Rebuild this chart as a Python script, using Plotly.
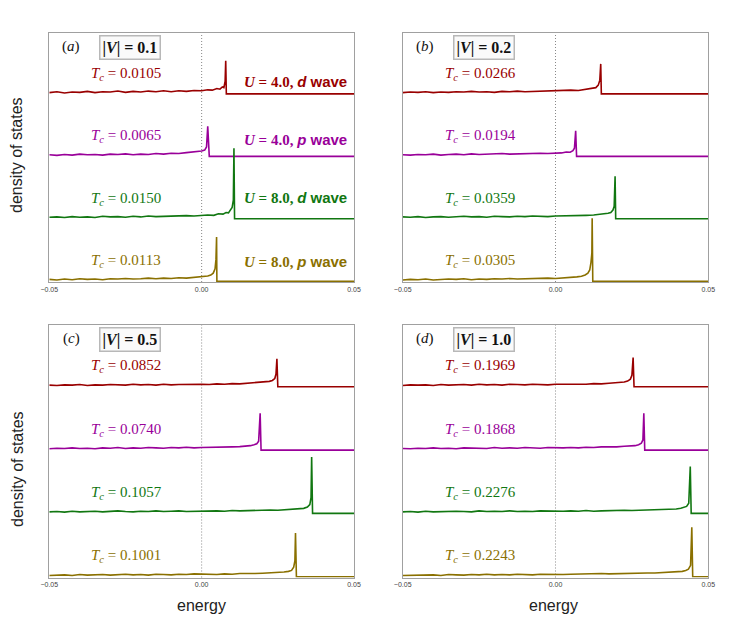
import plotly.graph_objects as go

# colours of the four curves (top to bottom)
COLORS = ["#990000", "#990099", "#117711", "#8a7000"]
OFFSETS = [3, 2, 1, 0]

# energies of the flat part, shared by every curve
E_FLAT = [-0.05, -0.0475, -0.045, -0.0425, -0.04, -0.0375, -0.035, -0.0325, -0.03, -0.0275, -0.025,
          -0.0225, -0.02, -0.0175, -0.015, -0.0125, -0.01, -0.0075, -0.005, -0.0025, 0.0]

# ---- panel (a), |V| = 0.1 ----
a_red_e = E_FLAT + [0.002, 0.0035, 0.005, 0.006, 0.0068, 0.0073, 0.0077, 0.0079, 0.0081, 0.05]
a_red_d = [0.02, 0.035, 0.015, 0.03, 0.025, 0.04, 0.02, 0.035, 0.03, 0.045, 0.025, 0.04, 0.03, 0.045, 0.035, 0.05, 0.035, 0.05, 0.04, 0.055, 0.05,
           0.065, 0.06, 0.085, 0.075, 0.11, 0.1, 0.2, 0.53, 0.0, 0.0]
a_pur_e = E_FLAT + [0.001, 0.0016, 0.002, 0.0023, 0.0025, 0.05]
a_pur_d = [0.025, 0.015, 0.03, 0.02, 0.035, 0.025, 0.03, 0.02, 0.035, 0.03, 0.04, 0.025, 0.035, 0.03, 0.045, 0.035, 0.05, 0.045, 0.06, 0.07, 0.085,
           0.1, 0.15, 0.48, 0.15, 0.0, 0.0]
a_grn_e = E_FLAT + [0.002, 0.004, 0.0055, 0.007, 0.008, 0.0088, 0.0095, 0.01, 0.0104, 0.0106, 0.0108, 0.05]
a_grn_d = [0.025, 0.03, 0.02, 0.035, 0.025, 0.03, 0.02, 0.04, 0.03, 0.035, 0.025, 0.04, 0.03, 0.045, 0.035, 0.04, 0.045, 0.04, 0.05, 0.045, 0.055,
           0.06, 0.055, 0.08, 0.075, 0.1, 0.095, 0.14, 0.18, 0.3, 1.13, 0.0, 0.0]
a_gld_e = E_FLAT + [0.001, 0.002, 0.003, 0.0038, 0.0044, 0.0047, 0.0049, 0.0050, 0.05]
a_gld_d = [0.03, 0.02, 0.035, 0.025, 0.04, 0.03, 0.035, 0.025, 0.04, 0.035, 0.045, 0.035, 0.04, 0.05, 0.04, 0.05, 0.045, 0.055, 0.05, 0.06, 0.065,
           0.075, 0.085, 0.1, 0.13, 0.2, 0.35, 0.71, 0.0, 0.0]
a_tc = ["0.0105", "0.0065", "0.0150", "0.0113"]

# ---- panel (b), |V| = 0.2 ----
b_red_e = E_FLAT + [0.0025, 0.005, 0.0075, 0.0095, 0.011, 0.0122, 0.0132, 0.014, 0.0145, 0.0148, 0.0150, 0.05]
b_red_d = [0.02, 0.03, 0.025, 0.035, 0.02, 0.03, 0.025, 0.035, 0.03, 0.04, 0.03, 0.035, 0.025, 0.04, 0.035, 0.045, 0.035, 0.04, 0.045, 0.04, 0.05,
           0.05, 0.06, 0.055, 0.07, 0.075, 0.09, 0.1, 0.14, 0.22, 0.48, 0.0, 0.0]
b_pur_e = E_FLAT + [0.002, 0.0035, 0.0048, 0.0057, 0.0062, 0.0066, 0.0069, 0.05]
b_pur_d = [0.025, 0.02, 0.03, 0.025, 0.035, 0.02, 0.03, 0.035, 0.025, 0.04, 0.03, 0.035, 0.03, 0.045, 0.035, 0.04, 0.045, 0.04, 0.05, 0.045, 0.05,
           0.055, 0.07, 0.065, 0.09, 0.13, 0.41, 0.0, 0.0]
b_grn_e = E_FLAT + [0.0025, 0.005, 0.0075, 0.01, 0.0125, 0.0145, 0.016, 0.0172, 0.0181, 0.0188, 0.0192, 0.0195, 0.0197, 0.05]
b_grn_d = [0.03, 0.025, 0.035, 0.02, 0.03, 0.035, 0.025, 0.03, 0.04, 0.03, 0.035, 0.025, 0.04, 0.035, 0.03, 0.04, 0.035, 0.045, 0.04, 0.035, 0.045,
           0.045, 0.05, 0.045, 0.055, 0.06, 0.07, 0.075, 0.09, 0.1, 0.14, 0.2, 0.68, 0.0, 0.0]
b_gld_e = E_FLAT + [0.0025, 0.005, 0.007, 0.0085, 0.0097, 0.0106, 0.0112, 0.0116, 0.0119, 0.0120, 0.0122, 0.05]
b_gld_d = [0.02, 0.03, 0.025, 0.035, 0.02, 0.03, 0.035, 0.03, 0.04, 0.025, 0.035, 0.03, 0.04, 0.035, 0.045, 0.035, 0.04, 0.045, 0.04, 0.05, 0.045,
           0.05, 0.06, 0.07, 0.08, 0.1, 0.13, 0.18, 0.3, 0.45, 1.01, 0.0, 0.0]
b_tc = ["0.0266", "0.0194", "0.0359", "0.0305"]

# ---- panel (c), |V| = 0.5 ----
c_red_e = E_FLAT + [0.0025, 0.005, 0.0075, 0.01, 0.0125, 0.015, 0.0175, 0.0195, 0.021, 0.0222, 0.0232, 0.024, 0.0244, 0.0247, 0.0250, 0.05]
c_red_d = [0.025, 0.02, 0.03, 0.025, 0.035, 0.02, 0.03, 0.025, 0.035, 0.03, 0.025, 0.04, 0.03, 0.035, 0.025, 0.04, 0.03, 0.035, 0.04, 0.035, 0.04,
           0.035, 0.045, 0.04, 0.05, 0.045, 0.055, 0.06, 0.065, 0.075, 0.085, 0.1, 0.13, 0.2, 0.44, 0.0, 0.0]
c_pur_e = E_FLAT + [0.0025, 0.005, 0.0075, 0.01, 0.0125, 0.0145, 0.016, 0.0172, 0.0181, 0.0187, 0.0192, 0.0195, 0.05]
c_pur_d = [0.02, 0.03, 0.025, 0.035, 0.025, 0.03, 0.02, 0.035, 0.03, 0.04, 0.025, 0.035, 0.03, 0.04, 0.035, 0.03, 0.04, 0.035, 0.045, 0.035, 0.04,
           0.04, 0.045, 0.04, 0.05, 0.055, 0.06, 0.07, 0.085, 0.1, 0.14, 0.58, 0.0, 0.0]
c_grn_e = E_FLAT + [0.0025, 0.005, 0.0075, 0.01, 0.0125, 0.015, 0.0175, 0.02, 0.0225, 0.025, 0.0275, 0.03, 0.032, 0.0335, 0.0347, 0.0355, 0.0359, 0.0361, 0.0364, 0.05]
c_grn_d = [0.025, 0.03, 0.02, 0.035, 0.025, 0.03, 0.035, 0.025, 0.03, 0.04, 0.03, 0.025, 0.035, 0.03, 0.04, 0.03, 0.035, 0.04, 0.03, 0.035, 0.04,
           0.035, 0.04, 0.035, 0.045, 0.04, 0.045, 0.05, 0.045, 0.055, 0.05, 0.06, 0.065, 0.07, 0.08, 0.1, 0.14, 0.25, 0.89, 0.0, 0.0]
c_gld_e = E_FLAT + [0.0025, 0.005, 0.0075, 0.01, 0.0125, 0.015, 0.0175, 0.02, 0.0225, 0.025, 0.027, 0.0285, 0.0295, 0.0302, 0.0306, 0.0308, 0.0311, 0.05]
c_gld_d = [0.02, 0.025, 0.03, 0.02, 0.035, 0.025, 0.03, 0.035, 0.025, 0.03, 0.04, 0.03, 0.035, 0.025, 0.04, 0.035, 0.03, 0.04, 0.035, 0.045, 0.04,
           0.04, 0.035, 0.045, 0.04, 0.05, 0.045, 0.05, 0.055, 0.06, 0.065, 0.075, 0.085, 0.1, 0.15, 0.25, 0.69, 0.0, 0.0]
c_tc = ["0.0852", "0.0740", "0.1057", "0.1001"]

# ---- panel (d), |V| = 1.0 ----
d_red_e = E_FLAT + [0.0025, 0.005, 0.0075, 0.01, 0.0125, 0.015, 0.0175, 0.0195, 0.0212, 0.0225, 0.0236, 0.0245, 0.025, 0.0254, 0.0257, 0.05]
d_red_d = [0.02, 0.03, 0.025, 0.03, 0.02, 0.035, 0.025, 0.03, 0.035, 0.025, 0.04, 0.03, 0.035, 0.025, 0.04, 0.035, 0.03, 0.04, 0.035, 0.03, 0.04,
           0.04, 0.035, 0.045, 0.04, 0.05, 0.045, 0.055, 0.06, 0.07, 0.075, 0.09, 0.12, 0.18, 0.46, 0.0, 0.0]
d_pur_e = E_FLAT + [0.0025, 0.005, 0.0075, 0.01, 0.0125, 0.015, 0.0175, 0.02, 0.0225, 0.0245, 0.026, 0.0272, 0.0281, 0.0286, 0.0289, 0.0292, 0.05]
d_pur_d = [0.025, 0.02, 0.03, 0.025, 0.035, 0.025, 0.03, 0.02, 0.035, 0.03, 0.035, 0.025, 0.04, 0.03, 0.035, 0.03, 0.04, 0.035, 0.03, 0.04, 0.035,
           0.035, 0.04, 0.035, 0.045, 0.04, 0.05, 0.045, 0.05, 0.06, 0.065, 0.07, 0.085, 0.11, 0.16, 0.58, 0.0, 0.0]
d_grn_e = E_FLAT + [0.0025, 0.005, 0.0075, 0.01, 0.0125, 0.015, 0.0175, 0.02, 0.0225, 0.025, 0.0275, 0.03, 0.0325, 0.035, 0.0375, 0.0395, 0.041, 0.042, 0.0429, 0.0436, 0.0441, 0.0444, 0.05]
d_grn_d = [0.025, 0.03, 0.02, 0.035, 0.025, 0.03, 0.025, 0.035, 0.03, 0.025, 0.04, 0.03, 0.035, 0.03, 0.04, 0.03, 0.035, 0.03, 0.04, 0.035, 0.04,
           0.035, 0.04, 0.035, 0.045, 0.035, 0.04, 0.045, 0.04, 0.05, 0.045, 0.05, 0.045, 0.055, 0.06, 0.065, 0.07, 0.08, 0.09, 0.11, 0.16, 0.74, 0.0, 0.0]
d_gld_e = E_FLAT + [0.0025, 0.005, 0.0075, 0.01, 0.0125, 0.015, 0.0175, 0.02, 0.0225, 0.025, 0.0275, 0.03, 0.0325, 0.035, 0.0375, 0.04, 0.0415, 0.0426, 0.0435, 0.0442, 0.0446, 0.0449, 0.05]
d_gld_d = [0.02, 0.025, 0.03, 0.025, 0.03, 0.02, 0.035, 0.03, 0.025, 0.035, 0.03, 0.04, 0.03, 0.035, 0.03, 0.04, 0.035, 0.03, 0.04, 0.035, 0.04,
           0.035, 0.04, 0.045, 0.04, 0.045, 0.05, 0.045, 0.05, 0.055, 0.05, 0.055, 0.06, 0.06, 0.065, 0.07, 0.075, 0.085, 0.1, 0.12, 0.18, 0.78, 0.0, 0.0]
d_tc = ["0.1969", "0.1868", "0.2276", "0.2243"]

panel_tags = ["a", "b", "c", "d"]
panel_v = ["0.1", "0.2", "0.5", "1.0"]
u_values = ["4.0", "4.0", "8.0", "8.0"]
u_waves = ["d", "p", "d", "p"]

panels = [
    ([a_red_e, a_pur_e, a_grn_e, a_gld_e], [a_red_d, a_pur_d, a_grn_d, a_gld_d], a_tc),
    ([b_red_e, b_pur_e, b_grn_e, b_gld_e], [b_red_d, b_pur_d, b_grn_d, b_gld_d], b_tc),
    ([c_red_e, c_pur_e, c_grn_e, c_gld_e], [c_red_d, c_pur_d, c_grn_d, c_gld_d], c_tc),
    ([d_red_e, d_pur_e, d_grn_e, d_gld_e], [d_red_d, d_pur_d, d_grn_d, d_gld_d], d_tc),
]

W, H = 747, 625
PAGE_OFF = 8  # the page body margin shifts the figure by this much
# plot areas as seen on the page, in pixels: (left, right, top, bottom)
boxes = [(49.3, 354.0, 33.0, 282.0), (402.7, 708.3, 33.0, 282.0),
         (49.3, 354.0, 325.0, 577.5), (402.7, 708.3, 325.0, 577.5)]

SERIF = "Liberation Serif"
SANS = "Liberation Sans"


def px(x):
    return (x - PAGE_OFF) / W


def py(y):
    return 1 - (y - PAGE_OFF) / H


fig = go.Figure()
annotations = []
shapes = []
layout_axes = {}

for i, (energies, dos, tcs) in enumerate(panels):
    n = "" if i == 0 else str(i + 1)
    xa, ya = "x" + n, "y" + n
    left, right, top, bottom = boxes[i]
    for k in range(4):
        assert len(energies[k]) == len(dos[k]), (i, k)
        fig.add_trace(go.Scatter(
            x=energies[k], y=[v + OFFSETS[k] for v in dos[k]],
            xaxis=xa, yaxis=ya, mode="lines",
            line=dict(color=COLORS[k], width=1.6), showlegend=False, hoverinfo="skip"))
        annotations.append(dict(
            x=-0.0247, y=OFFSETS[k] + 0.32, xref=xa, yref=ya, showarrow=False,
            xanchor="center", yanchor="middle",
            text=f"<i>T</i><sub><i>c</i></sub> = {tcs[k]}",
            font=dict(family=SERIF, size=15, color=COLORS[k])))
    axis_common = dict(showgrid=False, zeroline=False, showline=True, mirror=True,
                       linecolor="#a0a0a0", linewidth=1.2, automargin=False)
    layout_axes["xaxis" + n] = dict(
        axis_common, domain=[px(left), px(right)], anchor=ya, range=[-0.05, 0.05],
        tickvals=[-0.05, 0.0, 0.05], ticktext=["\u22120.05", "0.00", "0.05"], ticks="",
        tickfont=dict(family=SANS, size=7, color="#444"))
    layout_axes["yaxis" + n] = dict(
        axis_common, domain=[py(bottom), py(top)], anchor=xa, range=[-0.012, 3.975],
        showticklabels=False, ticks="")
    shapes.append(dict(type="line", xref=xa, yref=ya + " domain", x0=0, x1=0, y0=0, y1=1,
                       line=dict(color="#888", width=1, dash="1px,2px"), layer="below"))
    # panel tag and |V| box
    annotations.append(dict(
        x=px(left + 22), y=py(top + 13.5), xref="paper", yref="paper", showarrow=False,
        xanchor="center", yanchor="middle",
        text=f"(<i>{panel_tags[i]}</i>)", font=dict(family=SERIF, size=15, color="#111")))
    annotations.append(dict(
        x=px(left + 81), y=py(top + 14.5), xref="paper", yref="paper", showarrow=False,
        xanchor="center", yanchor="middle",
        text=f"<b>|<i>V</i>| = {panel_v[i]}</b>", font=dict(family=SERIF, size=16, color="#111"),
        bordercolor="#b8b8b8", borderwidth=1.5, borderpad=2, bgcolor="#fafafa"))

# U labels in panel (a)
u_y = [81.7, 139.3, 197.7, 261.7]
for k in range(4):
    annotations.append(dict(
        x=px(348.5), y=py(u_y[k]), xref="paper", yref="paper", showarrow=False,
        xanchor="right", yanchor="middle",
        text=(f"<b><i>U</i> = {u_values[k]}, </b>"
              f"<span style='font-family:{SANS}'><b><i>{u_waves[k]}</i> wave</b></span>"),
        font=dict(family=SERIF, size=15, color=COLORS[k])))

# axis titles
for yc in [155, 469]:
    annotations.append(dict(
        x=px(17), y=py(yc), xref="paper", yref="paper", showarrow=False, textangle=-90,
        xanchor="center", yanchor="middle",
        text="density of states", font=dict(family=SANS, size=16, color="#222")))
for xc in [201, 553]:
    annotations.append(dict(
        x=px(xc), y=py(605), xref="paper", yref="paper", showarrow=False,
        xanchor="center", yanchor="middle",
        text="energy", font=dict(family=SANS, size=16, color="#222")))

fig.update_layout(
    width=W, height=H, margin=dict(l=0, r=0, t=0, b=0, autoexpand=False),
    paper_bgcolor="white", plot_bgcolor="white",
    annotations=annotations, shapes=shapes, **layout_axes)

fig.write_html("out.html")
